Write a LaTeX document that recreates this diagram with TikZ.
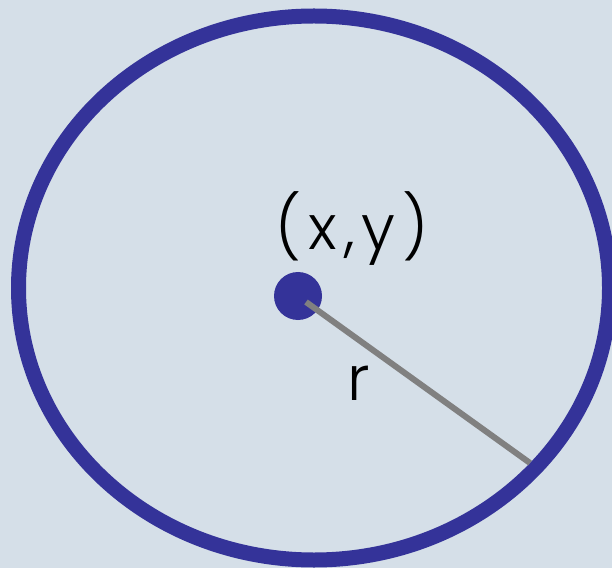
\documentclass[tikz,border=0pt]{standalone}
\usepackage{fontspec}
\setmainfont{Poppins}
\newfontfamily\lblfont[LetterSpace=11]{Poppins Light}
\definecolor{bg}{HTML}{D5DFE8}
\definecolor{navy}{HTML}{343399}
\definecolor{rgray}{HTML}{808080}
\begin{document}
\begin{tikzpicture}[x=1pt,y=1pt,
  lbl/.style={anchor=base,inner sep=0pt,font=\lblfont\fontsize{62}{72}\selectfont,text=black}]
\fill[bg] (0,0) rectangle (612,568);
\useasboundingbox (0,0) rectangle (612,568);
\draw[navy,line width=15] (314,280) ellipse [x radius=295.5,y radius=272];
\coordinate (rs) at (306,266);
\coordinate (re) at (530,105);
\node[circle,fill=navy,minimum size=48,inner sep=0pt] (c) at (298,272) {};
\draw[rgray,line width=6] (rs) -- (re);
\node[lbl] (xy) at (352,318) {(x,y)};
\node[lbl] (r) at (359,168) {r};
\end{tikzpicture}
\end{document}
